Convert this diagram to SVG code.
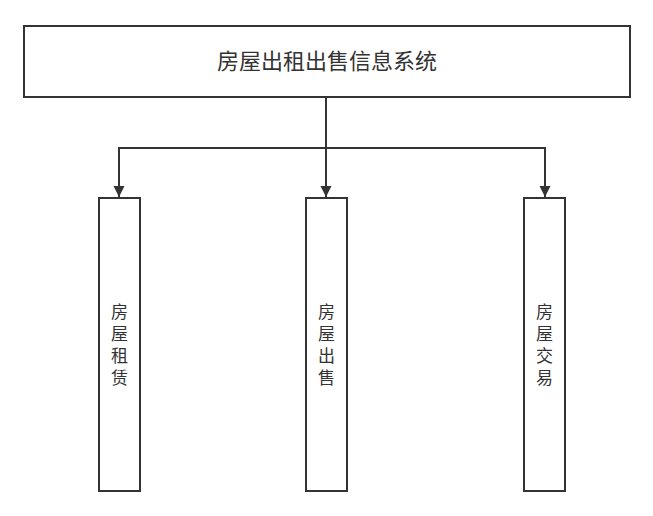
<svg xmlns="http://www.w3.org/2000/svg" width="653" height="516" viewBox="0 0 653 516">
<defs>
<style>
.box{fill:#fff;stroke:#333;stroke-width:2}
.edge{fill:none;stroke:#333;stroke-width:2}
.t{font-family:"Liberation Sans","Noto Sans CJK SC",sans-serif;fill:#333;text-anchor:middle}
</style>
<marker id="arr" markerWidth="12" markerHeight="12" refX="11" refY="5.5" orient="auto" markerUnits="userSpaceOnUse">
<path d="M0,0 L11,5.5 L0,11 Z" fill="#333"/>
</marker>
</defs>
<rect width="653" height="516" fill="#fff"/>
<g id="connectors">
<path class="edge" d="M326,97 V148"/>
<path class="edge" d="M326,148 H119 V197" marker-end="url(#arr)"/>
<path class="edge" d="M326,148 V197" marker-end="url(#arr)"/>
<path class="edge" d="M326,148 H545 V197" marker-end="url(#arr)"/>
</g>
<g id="root">
<rect class="box" x="24" y="26" width="606" height="71"/>
<text class="t" x="327" y="69" font-size="22">房屋出租出售信息系统</text>
</g>
<g id="rent">
<rect class="box" x="99" y="198" width="41" height="293"/>
<text class="t" font-size="17"><tspan x="119.5" y="318">房</tspan><tspan x="119.5" y="340">屋</tspan><tspan x="119.5" y="362">租</tspan><tspan x="119.5" y="384">赁</tspan></text>
</g>
<g id="sell">
<rect class="box" x="306" y="198" width="41" height="293"/>
<text class="t" font-size="17"><tspan x="326.5" y="318">房</tspan><tspan x="326.5" y="340">屋</tspan><tspan x="326.5" y="362">出</tspan><tspan x="326.5" y="384">售</tspan></text>
</g>
<g id="trade">
<rect class="box" x="524" y="198" width="41" height="293"/>
<text class="t" font-size="17"><tspan x="544.5" y="318">房</tspan><tspan x="544.5" y="340">屋</tspan><tspan x="544.5" y="362">交</tspan><tspan x="544.5" y="384">易</tspan></text>
</g>
</svg>
